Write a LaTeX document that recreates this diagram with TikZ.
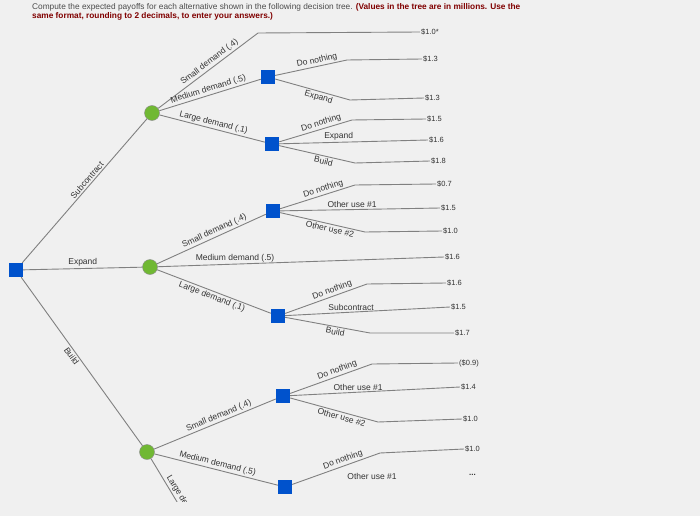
\documentclass[tikz,border=0pt]{standalone}
\usepackage{fontspec}
\setmainfont{Liberation Sans}
\begin{document}
\begin{tikzpicture}[x=1pt,y=-1pt,
  br/.style={draw=black!50,line width=0.9pt},
  dec/.style={draw=none,fill=blue!60!cyan!80!black,minimum size=14pt,inner sep=0pt},
  chn/.style={circle,draw=black!45,fill=green!50!black!70!yellow!80,minimum size=15pt,inner sep=0pt},
  lab/.style={font=\fontsize{8.5}{9}\selectfont,text=black!80,inner sep=1.5pt},
  pay/.style={font=\fontsize{7.5}{9}\selectfont,text=black!80,anchor=west,inner sep=1pt}]
\fill[black!6] (0,0) rectangle (700,516);
\useasboundingbox (0,0) rectangle (700,516);
\node[anchor=north west,align=left,font=\fontsize{8.3}{9.5}\selectfont,inner sep=0pt] (title) at (32,3)
 {\textcolor{black!70}{Compute the expected payoffs for each alternative shown in the following decision tree.} \textcolor{red!50!black}{\textbf{(Values in the tree are in millions. Use the}}\\\textcolor{red!50!black}{\textbf{same format, rounding to 2 decimals, to enter your answers.)}}};
% nodes
\node[dec] (R) at (16,270) {};
\node[chn] (C1) at (152,113) {};
\node[chn] (C2) at (150,267) {};
\node[chn] (C3) at (147,452) {};
\node[dec] (D1) at (268,77) {};
\node[dec] (D2) at (272,144) {};
\node[dec] (D3) at (273,211) {};
\node[dec] (D4) at (278,316) {};
\node[dec] (D5) at (283,396) {};
\node[dec] (D6) at (285,487) {};
% coordinates
\coordinate (k0) at (258,33);
\coordinate (k1) at (347,60); \coordinate (k2) at (350,100);
\coordinate (k3) at (352,120); \coordinate (k4) at (355,163);
\coordinate (k5) at (355,185); \coordinate (k6) at (365,232);
\coordinate (k7) at (367,284); \coordinate (k8) at (370,333);
\coordinate (k9) at (372,364); \coordinate (k10) at (378,422);
\coordinate (k11) at (380,453);
% payoffs
\node[pay] (p0) at (420,32) {\$1.0*};
\node[pay] (p1) at (422,59) {\$1.3};
\node[pay] (p2) at (424,98) {\$1.3};
\node[pay] (p3) at (426,119) {\$1.5};
\node[pay] (p4) at (428,140) {\$1.6};
\node[pay] (p5) at (430,161) {\$1.8};
\node[pay] (p6) at (436,184) {\$0.7};
\node[pay] (p7) at (440,208) {\$1.5};
\node[pay] (p8) at (442,231) {\$1.0};
\node[pay] (p9) at (444,257) {\$1.6};
\node[pay] (p10) at (446,283) {\$1.6};
\node[pay] (p11) at (450,307) {\$1.5};
\node[pay] (p12) at (454,333) {\$1.7};
\node[pay] (p13) at (458,363) {(\$0.9)};
\node[pay] (p14) at (460,387) {\$1.4};
\node[pay] (p15) at (462,419) {\$1.0};
\node[pay] (p16) at (464,449) {\$1.0};
\node[pay,font=\bfseries\fontsize{8}{9}\selectfont] (p17) at (468,475) {...};
% root branches
\draw[br] (R) -- (C1) node[lab,pos=.55,sloped,above]{Subcontract};
\draw[br] (R) -- (C2) node[lab,pos=.5,above]{Expand};
\draw[br] (R) -- (C3) node[lab,pos=.45,sloped,below]{Build};
% C1
\draw[br] (C1) -- (k0) node[lab,pos=.55,sloped,above]{Small demand (.4)} -- (p0.west);
\draw[br] (C1) -- (D1) node[lab,pos=.5,sloped,above]{Medium demand (.5)};
\draw[br] (C1) -- (D2) node[lab,pos=.5,sloped,above]{Large demand (.1)};
\draw[br] (D1) -- (k1) node[lab,pos=.6,sloped,above]{Do nothing} -- (p1.west);
\draw[br] (D1) -- (k2) node[lab,pos=.6,sloped,below]{Expand} -- (p2.west);
\draw[br] (D2) -- (k3) node[lab,pos=.6,sloped,above]{Do nothing} -- (p3.west);
\draw[br] (D2) -- (p4.west) node[lab,pos=.4,above]{Expand};
\draw[br] (D2) -- (k4) node[lab,pos=.6,sloped,below]{Build} -- (p5.west);
% C2
\draw[br] (C2) -- (D3) node[lab,pos=.55,sloped,above]{Small demand (.4)};
\draw[br] (C2) -- (p9.west) node[lab,pos=.27,above]{Medium demand (.5)};
\draw[br] (C2) -- (D4) node[lab,pos=.5,sloped,below]{Large demand (.1)};
\draw[br] (D3) -- (k5) node[lab,pos=.6,sloped,above]{Do nothing} -- (p6.west);
\draw[br] (D3) -- (p7.west) node[lab,pos=.45,above]{Other use \#1};
\draw[br] (D3) -- (k6) node[lab,pos=.6,sloped,below]{Other use \#2} -- (p8.west);
\draw[br] (D4) -- (k7) node[lab,pos=.6,sloped,above]{Do nothing} -- (p10.west);
\draw[br] (D4) -- (p11.west) node[lab,pos=.4,above]{Subcontract};
\draw[br] (D4) -- (k8) node[lab,pos=.6,sloped,below]{Build} -- (p12.west);
% C3
\draw[br] (C3) -- (D5) node[lab,pos=.55,sloped,above]{Small demand (.4)};
\draw[br] (C3) -- (D6) node[lab,pos=.5,sloped,above]{Medium demand (.5)};
\draw[br] (D5) -- (k9) node[lab,pos=.6,sloped,above]{Do nothing} -- (p13.west);
\draw[br] (D5) -- (p14.west) node[lab,pos=.4,above]{Other use \#1};
\draw[br] (D5) -- (k10) node[lab,pos=.6,sloped,below]{Other use \#2} -- (p15.west);
\draw[br] (D6) -- (k11) node[lab,pos=.6,sloped,above]{Do nothing} -- (p16.west);
\node[lab] (ou) at (372,476) {Other use \#1};
\begin{scope}
\clip (0,0) rectangle (700,502);
\coordinate (k12) at (200,540);
\draw[br] (C3) -- (k12) node[lab,pos=.62,sloped,above]{Large demand (.1)};
\end{scope}
\fill[black!6] (0,502) rectangle (700,516);
\end{tikzpicture}
\end{document}
